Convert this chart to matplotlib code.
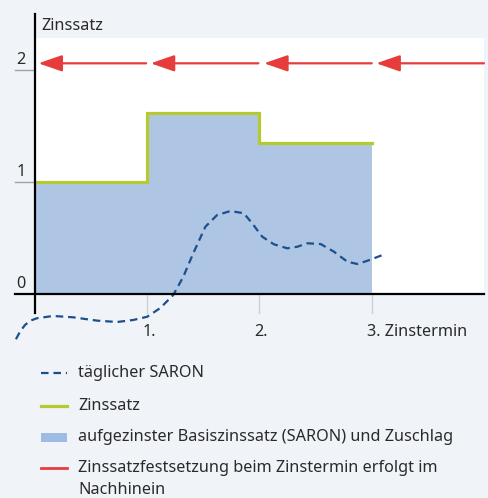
import matplotlib
matplotlib.use("Agg")
import matplotlib.pyplot as plt
from matplotlib.lines import Line2D
from matplotlib.patches import Rectangle

plt.rcParams['font.family'] = ['Noto Sans', 'DejaVu Sans']

# Zinssatz je Periode (Stufen)
perioden = [0, 1, 2, 3]
zinssatz = [1.0, 1.62, 1.345, 1.345]

# täglicher SARON
saron_x = [-0.170, -0.130, -0.089, -0.045, 0.015, 0.161, 0.339, 0.554, 0.732, 0.875,
           1.000, 1.116, 1.232, 1.321, 1.411, 1.518, 1.622, 1.741, 1.860, 1.935,
           2.024, 2.128, 2.247, 2.337, 2.426, 2.545, 2.663, 2.783, 2.872, 2.962, 3.096]
saron_y = [-0.404, -0.330, -0.277, -0.240, -0.217, -0.196, -0.208, -0.238, -0.250, -0.232,
           -0.203, -0.125, -0.009, 0.154, 0.366, 0.601, 0.705, 0.741, 0.721, 0.631,
           0.512, 0.444, 0.408, 0.422, 0.453, 0.446, 0.378, 0.288, 0.268, 0.297, 0.348]

# Pfeile: Festsetzung im Nachhinein
pfeil_start = [0.99, 1.99, 3.0, 4.0]
pfeil_ende = [0.03, 1.03, 2.04, 3.04]
pfeil_y = 2.06

yticks = [0, 1, 2]
xticks = [1, 2, 3]
xlabels = ["1.", "2.", "3. Zinstermin"]

legend_labels = ["täglicher SARON", "Zinssatz",
                 "aufgezinster Basiszinssatz (SARON) und Zuschlag",
                 "Zinssatzfestsetzung beim Zinstermin erfolgt im", "Nachhinein"]

BG = "#f0f4f9"
BLUE_FILL = "#aec5e4"
GREEN = "#b6c92f"
RED = "#e63c3c"
DARKBLUE = "#1d4f8c"
TXT = "#2a2a2a"
FS = 11.7

W, H = 489, 498
fig = plt.figure(figsize=(W / 100, H / 100), dpi=100, facecolor=BG)
ax = fig.add_axes([35 / W, 1 - 294 / H, 449 / W, 256 / H])
ax.set_facecolor("white")
ax.set_xlim(0, 4.0)
ax.set_ylim(0, 2.286)
for s in ax.spines.values():
    s.set_visible(False)
ax.set_xticks([])
ax.set_yticks([])

ax.fill_between(perioden, zinssatz, 0, step="post", color=BLUE_FILL, lw=0)
ax.plot(perioden, zinssatz, drawstyle="steps-post", color=GREEN, lw=2.3,
        solid_joinstyle="miter")

line, = ax.plot(saron_x, saron_y, color=DARKBLUE, lw=1.6, clip_on=False)
line.set_dashes((3.4, 2.2))

for a, b in zip(pfeil_start, pfeil_ende):
    ax.annotate("", xy=(b, pfeil_y), xytext=(a, pfeil_y),
                arrowprops=dict(arrowstyle="-|>,head_length=1.45,head_width=0.5",
                                color=RED, lw=1.6, shrinkA=0, shrinkB=0,
                                mutation_scale=10))

# Achsen
ax.plot([0, 0], [-0.17, 2.5], color="black", lw=1.6, clip_on=False, zorder=5)
ax.plot([-0.179, 4.0], [0, 0], color="black", lw=1.6, clip_on=False, zorder=5)
for t in yticks[1:]:
    ax.plot([-0.179, 0], [t, t], color="#a0a0a0", lw=1.0, clip_on=False)
for t in yticks:
    ax.text(-0.085, t + 0.054, str(t), ha="right", va="baseline", fontsize=FS,
            color=TXT, clip_on=False)
for t, lab in zip(xticks, xlabels):
    ax.plot([t, t], [0, -0.17], color="#cfcfcf", lw=1.0, clip_on=False, zorder=1)
    ax.text(t - 0.045, -0.375, lab, ha="left", va="baseline", fontsize=FS,
            color=TXT, clip_on=False)
ax.text(0.054, 2.357, "Zinssatz", ha="left", va="baseline", fontsize=FS,
        color=TXT, clip_on=False)

# Legende
def fx(px):
    return px / W

def fy(py):
    return 1 - py / H

rows = [373, 406, 437, 468]
lg = Line2D([fx(41), fx(67)], [fy(rows[0])] * 2, color=DARKBLUE, lw=1.6)
lg.set_dashes((3.4, 2.2))
fig.add_artist(lg)
fig.add_artist(Line2D([fx(41), fx(67)], [fy(rows[1])] * 2, color=GREEN, lw=2.3))
fig.add_artist(Rectangle((fx(41), fy(rows[2] + 4.5)), fx(67) - fx(41), 9 / H,
                         color="#9dbbe3", lw=0))
fig.add_artist(Line2D([fx(41), fx(67)], [fy(rows[3])] * 2, color=RED, lw=2.0))
for r, lab in zip(rows, legend_labels[:4]):
    fig.text(fx(78), fy(r), lab, ha="left", va="center", fontsize=FS, color=TXT)
fig.text(fx(78), fy(rows[3] + 22), legend_labels[4], ha="left", va="center",
         fontsize=FS, color=TXT)

fig.savefig("out.png", dpi=100, facecolor=BG)
